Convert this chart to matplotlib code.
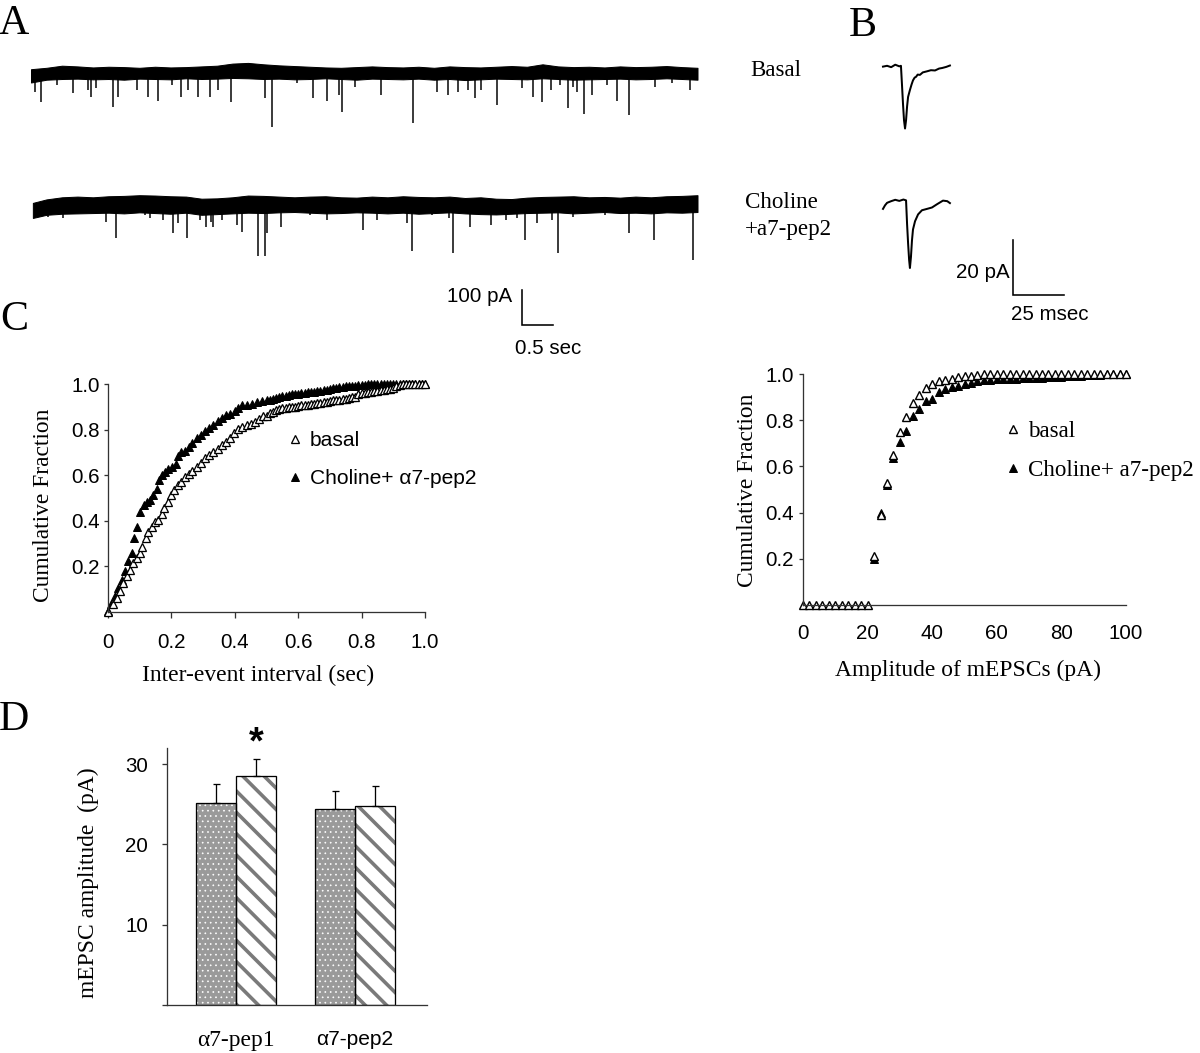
import numpy as np
import matplotlib
matplotlib.use('Agg')
import matplotlib.pyplot as plt

# ================= DATA =================
# Panel A: continuous recordings (time in s, current in pA relative to baseline)
env_t = np.arange(44) * 0.25
basal_env_top = [8, 12, 18, 16, 13, 15, 14, 12, 15, 13, 14, 16, 18, 24, 26, 22, 19, 17, 15, 13, 12, 14,
                 16, 14, 13, 15, 12, 16, 14, 13, 15, 17, 15, 22, 16, 14, 15, 13, 16, 14, 15, 17, 14, 12]
basal_env_bot = [-30, -22, -20, -19, -21, -20, -22, -19, -20, -21, -18, -20, -19, -17, -18, -20, -19, -21,
                 -20, -18, -20, -22, -19, -20, -21, -19, -22, -20, -23, -21, -19, -20, -21, -18, -20, -22,
                 -21, -20, -19, -21, -20, -18, -20, -22]
basal_event_t = [0.06, 0.16, 0.42, 0.68, 0.92, 0.97, 1.05, 1.32, 1.40, 1.71, 1.89, 2.05, 2.27, 2.42, 2.53,
                 2.69, 2.89, 3.02, 3.23, 3.77, 3.89, 4.29, 4.55, 4.77, 4.97, 5.02, 5.23, 5.65, 6.16, 6.55,
                 6.73, 6.89, 7.05, 7.16, 7.26, 7.52, 7.92, 8.10, 8.24, 8.39, 8.53, 8.66, 8.74, 8.81, 8.92,
                 9.05, 9.29, 9.45, 9.65, 10.06, 10.34, 10.63]
basal_event_amp = [57, 86, 37, 60, 51, 71, 46, 100, 71, 51, 71, 83, 37, 71, 51, 71, 71, 51, 86, 74, 157,
                   31, 74, 83, 66, 114, 43, 66, 146, 57, 66, 57, 51, 74, 51, 94, 46, 71, 86, 51, 37, 103,
                   43, 57, 120, 66, 37, 83, 123, 43, 31, 51]
chol_env_top = [6, 16, 22, 24, 22, 25, 26, 28, 27, 25, 24, 18, 19, 22, 27, 26, 24, 22, 24, 25, 22, 21,
                24, 22, 25, 23, 22, 24, 20, 22, 18, 17, 21, 23, 24, 25, 22, 23, 21, 24, 22, 25, 26, 28]
chol_env_bot = [-37, -28, -25, -24, -23, -22, -24, -21, -23, -25, -22, -28, -26, -24, -22, -23, -21, -20,
                -22, -24, -23, -21, -22, -24, -22, -25, -23, -21, -24, -26, -27, -25, -23, -22, -21, -24,
                -22, -20, -23, -22, -24, -21, -22, -20]
chol_event_t = [0.27, 0.52, 1.21, 1.37, 1.53, 1.84, 1.92, 2.13, 2.29, 2.37, 2.52, 2.73, 2.82, 2.90, 2.94,
                3.08, 3.32, 3.40, 3.66, 3.77, 3.81, 4.03, 4.50, 4.77, 5.35, 5.58, 6.06, 6.15, 6.47, 6.74,
                6.81, 7.08, 7.42, 7.66, 7.84, 7.97, 8.16, 8.40, 8.50, 8.74, 9.26, 9.65, 10.05, 10.68]
chol_event_amp = [34, 37, 49, 94, 23, 29, 37, 43, 80, 51, 94, 43, 63, 49, 63, 43, 57, 77, 146, 146, 80,
                  63, 29, 43, 71, 43, 51, 131, 29, 37, 137, 63, 57, 43, 37, 100, 51, 43, 137, 34, 29, 80,
                  100, 157]

# Panel B: averaged mEPSCs (time in ms, current in pA)
b_basal_t = [0, 2, 4, 6, 8, 8.8, 9.3, 9.8, 10.3, 10.8, 11.3, 11.8, 12.3, 13.2, 14.0, 14.7, 15.5, 16.2,
             17.0, 18.1, 19.5, 21.6, 23.5, 25.5, 27.5, 29.0, 31.0, 32.8]
b_basal_i = [0.5, 0.8, 0.3, 1.2, 0.6, 0.8, -6, -13, -19, -22, -19, -14, -10.5, -8, -6, -4.5, -3.5, -3.2,
             -2.4, -2.5, -1.6, -1.2, -0.8, -0.9, -0.2, 0.0, 0.4, 0.9]
b_chol_t = [0, 1, 2, 4, 6, 8, 10, 11.3, 11.8, 12.3, 12.8, 13.2, 13.7, 14.2, 14.7, 15.7, 17.2, 19.1, 21.6,
            24, 26.5, 29.4, 31.5, 32.8]
b_chol_i = [-2.5, -1.2, -0.3, 0.3, 0.8, 0.4, 0.9, 0.6, -8, -15, -21, -24, -20, -14, -10, -7, -4.5, -3,
            -2.5, -2, -0.8, 0.5, 0.3, -0.4]

# Panel C (left): cumulative inter-event interval distributions
iei_basal_x = [0.000, 0.017, 0.027, 0.038, 0.048, 0.059, 0.069, 0.080, 0.090, 0.101, 0.108, 0.119, 0.127,
               0.138, 0.148, 0.159, 0.169, 0.178, 0.188, 0.199, 0.209, 0.220, 0.230, 0.243, 0.256, 0.266,
               0.280, 0.293, 0.306, 0.319, 0.332, 0.346, 0.359, 0.371, 0.385, 0.398, 0.411, 0.424, 0.437,
               0.451, 0.464, 0.476, 0.490,
               0.50, 0.51, 0.52, 0.53, 0.54, 0.55, 0.56, 0.57, 0.58, 0.59, 0.60, 0.61, 0.62, 0.63, 0.64,
               0.65, 0.66, 0.67, 0.68, 0.69, 0.70, 0.71, 0.72, 0.73, 0.74, 0.75, 0.76, 0.77, 0.78, 0.79,
               0.80, 0.81, 0.82, 0.83, 0.84, 0.85, 0.86, 0.87, 0.88, 0.89, 0.90, 0.91, 0.92, 0.93, 0.94,
               0.95, 0.96, 0.97, 0.98, 0.99, 1.00]
iei_basal_y = [0.000, 0.033, 0.062, 0.094, 0.128, 0.157, 0.186, 0.214, 0.236, 0.258, 0.287, 0.323, 0.352,
               0.374, 0.396, 0.403, 0.432, 0.454, 0.483, 0.512, 0.533, 0.555, 0.572, 0.591, 0.606, 0.620,
               0.635, 0.654, 0.674, 0.688, 0.703, 0.717, 0.732, 0.746, 0.765, 0.787, 0.801, 0.813, 0.819,
               0.823, 0.833, 0.845, 0.859,
               0.860, 0.872, 0.878, 0.884, 0.889, 0.893, 0.895, 0.897, 0.899, 0.901, 0.903, 0.906, 0.908,
               0.910, 0.911, 0.913, 0.915, 0.917, 0.919, 0.922, 0.925, 0.928, 0.930, 0.932, 0.934, 0.936,
               0.938, 0.941, 0.944, 0.955, 0.960, 0.962, 0.964, 0.966, 0.968, 0.970, 0.972, 0.974, 0.976,
               0.978, 0.982, 0.990, 0.996, 0.998, 1.000, 1.000, 1.000, 1.000, 1.000, 1.000, 1.000]
iei_chol_x = [0.000, 0.011, 0.022, 0.032, 0.043, 0.053, 0.064, 0.075, 0.083, 0.090, 0.101, 0.112, 0.122,
              0.133, 0.143, 0.154, 0.161, 0.170, 0.180, 0.190, 0.201, 0.213, 0.220, 0.230, 0.243, 0.256,
              0.266, 0.280, 0.293, 0.306, 0.319, 0.332, 0.346, 0.359, 0.371, 0.385, 0.401, 0.411, 0.424,
              0.437, 0.453, 0.469, 0.485, 0.501,
              0.51, 0.52, 0.53, 0.54, 0.55, 0.56, 0.57, 0.58, 0.59, 0.60, 0.61, 0.62, 0.63, 0.64, 0.65,
              0.66, 0.67, 0.68, 0.69, 0.70, 0.71, 0.72, 0.73, 0.74, 0.75, 0.76, 0.77, 0.78, 0.79, 0.80,
              0.81, 0.82, 0.83, 0.84, 0.85, 0.86, 0.87, 0.88, 0.89, 0.90, 0.91, 0.92, 0.93, 0.94, 0.95,
              0.96, 0.97, 0.98, 0.99, 1.00]
iei_chol_y = [0.004, 0.033, 0.070, 0.106, 0.142, 0.178, 0.222, 0.258, 0.323, 0.374, 0.439, 0.468, 0.483,
              0.490, 0.512, 0.541, 0.577, 0.599, 0.613, 0.628, 0.635, 0.649, 0.686, 0.700, 0.707, 0.722,
              0.743, 0.761, 0.775, 0.794, 0.809, 0.819, 0.838, 0.852, 0.862, 0.867, 0.881, 0.896, 0.906,
              0.910, 0.914, 0.920, 0.925, 0.929,
              0.930, 0.934, 0.938, 0.942, 0.946, 0.948, 0.951, 0.955, 0.957, 0.958, 0.960, 0.961, 0.963,
              0.964, 0.966, 0.968, 0.970, 0.972, 0.975, 0.978, 0.981, 0.984, 0.987, 0.989, 0.990, 0.991,
              0.992, 0.993, 0.995, 0.996, 0.997, 0.998, 0.999, 1.000, 1.000, 1.000, 1.000, 1.000, 1.000,
              1.000, 1.000, 1.000, 1.000, 1.000, 1.000, 1.000, 1.000, 1.000, 1.000, 1.000]

# Panel C (right): cumulative amplitude distributions
amp_basal_x = [0, 2, 4, 6, 8, 10, 12, 14, 16, 18, 20, 22, 24, 26, 28, 30, 32, 34, 36, 38, 40, 42, 44, 46,
               48, 50, 52, 54, 56, 58, 60, 62, 64, 66, 68, 70, 72, 74, 76, 78, 80, 82, 84, 86, 88, 90, 92,
               94, 96, 98, 100]
amp_basal_y = [0, 0, 0, 0, 0, 0, 0, 0, 0, 0, 0, 0.21, 0.39, 0.53, 0.65, 0.75, 0.815, 0.875, 0.91, 0.94,
               0.955, 0.97, 0.975, 0.98, 0.985, 0.99, 0.99, 0.995, 1, 1, 1, 1, 1, 1, 1, 1, 1, 1, 1, 1, 1,
               1, 1, 1, 1, 1, 1, 1, 1, 1, 1]
amp_chol_x = [22, 24, 26, 28, 30, 32, 34, 36, 38, 40, 42, 44, 46, 48, 50, 52, 54, 56, 58, 60, 62, 64, 66,
              68, 70, 72, 74, 76, 78, 80, 82, 84, 86, 88, 90, 92, 94, 96, 98, 100]
amp_chol_y = [0.20, 0.40, 0.52, 0.635, 0.705, 0.755, 0.818, 0.85, 0.882, 0.89, 0.92, 0.935, 0.943, 0.948,
              0.955, 0.962, 0.968, 0.972, 0.975, 0.978, 0.979, 0.98, 0.98, 0.981, 0.982, 0.983, 0.984,
              0.985, 0.986, 0.988, 0.99, 0.992, 0.993, 0.995, 0.996, 0.997, 0.998, 0.999, 1.0, 1.0]

# Panel D: mean mEPSC amplitude (pA)
d_groups = ['\u03b17-pep1', '\u03b17-pep2']
d_basal = [25.2, 24.4]
d_basal_err = [2.3, 2.2]
d_treat = [28.5, 24.8]
d_treat_err = [2.1, 2.5]

# ================= FIGURE =================
W, H = 1200, 1053
DPI = 128


def pt(px):
    return px * 72.0 / DPI


SERIF = 'Liberation Serif'
SANS = 'Liberation Sans'
plt.rcParams['font.family'] = SANS
plt.rcParams['hatch.linewidth'] = pt(3.6)

fig = plt.figure(figsize=(W / DPI, H / DPI), dpi=DPI)
fig.patch.set_facecolor('white')


def add_ax(l, t, r, b):
    return fig.add_axes([l / W, 1 - b / H, (r - l) / W, (b - t) / H])


def ftext(x, y, s, **kw):
    return fig.text(x / W, 1 - y / H, s, **kw)


AXC = '#333333'


def style(ax):
    for s in ['top', 'right']:
        ax.spines[s].set_visible(False)
    for s in ['left', 'bottom']:
        ax.spines[s].set_linewidth(pt(1.3))
        ax.spines[s].set_color(AXC)
    ax.tick_params(color=AXC, width=pt(1.3), labelsize=pt(20.5), labelcolor='black')


# panel letters
for s, (x, y) in {'A': (14, 24), 'B': (863, 26), 'C': (14, 320), 'D': (14, 720)}.items():
    ftext(x, y, s, family=SERIF, size=pt(42), ha='center', va='center')

# ---- Panel A ----
PX_S = 62.0      # px per second
PX_PA = 0.35     # px per pA
axA = add_ax(20, 40, 720, 360)
axA.set_xlim((20 - 31) / PX_S, (720 - 31) / PX_S)
axA.set_ylim(-(360 - 72) / PX_PA, (72 - 40) / PX_PA)
axA.axis('off')
off_bot = -(205 - 72) / PX_PA
tA_b = env_t.copy()
tA_b[0] = 0.03
for tt, top, bot, evt, eva, off in [
        (env_t, basal_env_top, basal_env_bot, basal_event_t, basal_event_amp, 0.0),
        (tA_b, chol_env_top, chol_env_bot, chol_event_t, chol_event_amp, off_bot)]:
    axA.fill_between(tt, off + np.array(top), off + np.array(bot), color='black', lw=pt(1.0))
    axA.vlines(evt, off, off - np.array(eva), color='black', lw=pt(1.5))
# scale bar A
sbx = (522 - 31) / PX_S
sby0 = -(290 - 72) / PX_PA
axA.plot([sbx, sbx, sbx + 0.5], [sby0, sby0 - 100, sby0 - 100], color='black', lw=pt(1.6),
         solid_joinstyle='miter')
axA.text(sbx - 10 / PX_S, sby0 - 20, '100 pA', ha='right', va='center', size=pt(20.5))
axA.text(sbx + 0.42, sby0 - 100 - 23 / PX_PA, '0.5 sec', ha='center', va='center', size=pt(20.5))

ftext(750, 71, 'Basal', family=SERIF, size=pt(23), ha='left', va='center')
ftext(745, 202, 'Choline', family=SERIF, size=pt(23), ha='left', va='center')
ftext(745, 230, '+a7-pep2', family=SERIF, size=pt(23), ha='left', va='center')

# ---- Panel B ----
PX_MS = 2.04
PX_PA_B = 2.75
axB = add_ax(860, 40, 1100, 340)
axB.set_xlim((860 - 883) / PX_MS, (1100 - 883) / PX_MS)
axB.set_ylim(-(340 - 68) / PX_PA_B, (68 - 40) / PX_PA_B)
axB.axis('off')
offB = -(202 - 68) / PX_PA_B
axB.plot(b_basal_t, b_basal_i, color='black', lw=pt(2.0))
axB.plot(b_chol_t, offB + np.array(b_chol_i), color='black', lw=pt(2.0))
sbxB = (1013 - 883) / PX_MS
sbyB = -(240 - 68) / PX_PA_B
axB.plot([sbxB, sbxB, sbxB + 25], [sbyB, sbyB - 20, sbyB - 20], color='black', lw=pt(1.6),
         solid_joinstyle='miter')
axB.text(sbxB - 3 / PX_MS, sbyB - 12, '20 pA', ha='right', va='center', size=pt(20.5))
axB.text(sbxB - 1, sbyB - 20 - 20 / PX_PA_B, '25 msec', ha='left', va='center', size=pt(20.5))

# ---- Panel C left ----
axC1 = add_ax(108, 384, 425, 612)
style(axC1)
axC1.set_xlim(0, 1)
axC1.set_ylim(0, 1)
h_ch = axC1.plot(iei_chol_x, iei_chol_y, ls='none', marker='^', ms=pt(8), mfc='black', mec='black',
                 mew=pt(1.0), clip_on=False, label='Choline+ \u03b17-pep2')[0]
h_ba = axC1.plot(iei_basal_x, iei_basal_y, ls='none', marker='^', ms=pt(8), mfc='white', mec='black',
                 mew=pt(1.3), clip_on=False, label='basal')[0]
axC1.set_xticks([0, 0.2, 0.4, 0.6, 0.8, 1.0])
axC1.set_xticklabels(['0', '0.2', '0.4', '0.6', '0.8', '1.0'])
axC1.set_yticks([0.2, 0.4, 0.6, 0.8, 1.0])
axC1.set_yticklabels(['0.2', '0.4', '0.6', '0.8', '1.0'])
axC1.tick_params(axis='x', length=pt(6), pad=pt(15))
axC1.tick_params(axis='y', length=pt(4), pad=pt(4))
axC1.legend([h_ba, h_ch], ['basal', 'Choline+ \u03b17-pep2'], loc='upper left',
            bbox_to_anchor=(289 / W, 1 - 431 / H), bbox_transform=fig.transFigure,
            frameon=False, numpoints=1, handlelength=0.6, handletextpad=0.4,
            labelspacing=0.9, borderpad=0, borderaxespad=0, prop={'family': SANS, 'size': pt(21)})
ftext(44, 505, 'Cumulative Fraction', family=SERIF, size=pt(23.5), rotation=90, ha='center', va='center')
ftext(258, 675, 'Inter-event interval (sec)', family=SERIF, size=pt(23.5), ha='center', va='center')

# ---- Panel C right ----
axC2 = add_ax(803, 374, 1126, 605)
style(axC2)
axC2.set_xlim(0, 100)
axC2.set_ylim(0, 1)
h2_ch = axC2.plot(amp_chol_x, amp_chol_y, ls='none', marker='^', ms=pt(8.5), mfc='black', mec='black',
                  mew=pt(1.0), clip_on=False)[0]
h2_ba = axC2.plot(amp_basal_x, amp_basal_y, ls='none', marker='^', ms=pt(8.5), mfc='white', mec='black',
                  mew=pt(1.4), clip_on=False)[0]
axC2.set_xticks([0, 20, 40, 60, 80, 100])
axC2.set_yticks([0.2, 0.4, 0.6, 0.8, 1.0])
axC2.set_yticklabels(['0.2', '0.4', '0.6', '0.8', '1.0'])
axC2.tick_params(axis='x', length=0, pad=pt(19))
axC2.tick_params(axis='y', length=pt(4), pad=pt(5))
axC2.legend([h2_ba, h2_ch], ['basal', 'Choline+ a7-pep2'], loc='upper left',
            bbox_to_anchor=(1006 / W, 1 - 421 / H), bbox_transform=fig.transFigure,
            frameon=False, numpoints=1, handlelength=0.6, handletextpad=0.35,
            labelspacing=0.76, borderpad=0, borderaxespad=0, prop={'family': SERIF, 'size': pt(23)})
ftext(747, 490, 'Cumulative Fraction', family=SERIF, size=pt(23.5), rotation=90, ha='center', va='center')
ftext(968, 670, 'Amplitude of mEPSCs (pA)', family=SERIF, size=pt(23.5), ha='center', va='center')

# ---- Panel D ----
GAP = 118.5
BW = 40 / GAP
axD = add_ax(167, 748, 427, 1005)
style(axD)
axD.set_xlim((167 - 236) / GAP, (427 - 236) / GAP)
axD.set_ylim(0, 32)
xg = np.arange(len(d_groups))
xb = xg - BW / 2
xt = xg + BW / 2
with plt.rc_context({'hatch.linewidth': pt(0.7)}):
    bars1 = axD.bar(xb, d_basal, BW, color='#9a9a9a', edgecolor='white', hatch='....', linewidth=0)
for b in bars1:
    if hasattr(b, 'set_hatch_linewidth'):
        b.set_hatch_linewidth(pt(0.7))
bars2 = axD.bar(xt, d_treat, BW, color='white', edgecolor='#7a7a7a', hatch='\\\\', linewidth=0)
for b in bars2:
    if hasattr(b, 'set_hatch_linewidth'):
        b.set_hatch_linewidth(pt(3.6))
axD.bar(xb, d_basal, BW, fill=False, edgecolor='black', linewidth=pt(1.3))
axD.bar(xt, d_treat, BW, fill=False, edgecolor='black', linewidth=pt(1.3))
axD.errorbar(xb, d_basal, yerr=[np.zeros(2), d_basal_err], fmt='none', ecolor='black',
             elinewidth=pt(1.3), capsize=pt(3.5), capthick=pt(1.3))
axD.errorbar(xt, d_treat, yerr=[np.zeros(2), d_treat_err], fmt='none', ecolor='black',
             elinewidth=pt(1.3), capsize=pt(3.5), capthick=pt(1.3))
axD.text(xt[0], d_treat[0] + d_treat_err[0] + 2.0, '*', ha='center', va='center', size=pt(38),
         fontweight='bold')
axD.set_yticks([0, 10, 20, 30])
axD.set_yticklabels(['', '10', '20', '30'])
axD.tick_params(axis='y', length=pt(5), pad=pt(14))
axD.set_xticks(xg)
axD.set_xticklabels(d_groups)
axD.tick_params(axis='x', length=0, pad=pt(25))
lbls = axD.get_xticklabels()
lbls[0].set_fontfamily(SERIF)
lbls[0].set_fontsize(pt(23.5))
lbls[1].set_fontfamily(SANS)
lbls[1].set_fontsize(pt(21))
ftext(88, 883, 'mEPSC amplitude  (pA)', family=SERIF, size=pt(23.5), rotation=90, ha='center', va='center')

fig.savefig('out.png', dpi=DPI, facecolor='white')
